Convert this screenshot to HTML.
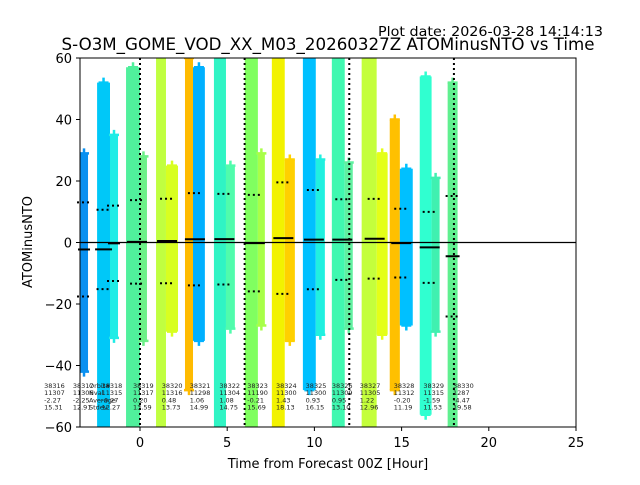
<!DOCTYPE html>
<html><head><meta charset="utf-8"><style>
body{margin:0;background:#fff;}
svg{font-family:"DejaVu Sans","Liberation Sans",sans-serif;}
</style></head><body>
<svg id="chart" width="640" height="480" viewBox="0 0 640 480" xmlns="http://www.w3.org/2000/svg">
<rect width="640" height="480" fill="#fff"/>
<text x="603" y="36" font-size="13.5" text-anchor="end" textLength="225" lengthAdjust="spacingAndGlyphs">Plot date: 2026-03-28 14:14:13</text>
<text x="328" y="50" font-size="16.5" text-anchor="middle" textLength="533" lengthAdjust="spacingAndGlyphs">S-O3M_GOME_VOD_XX_M03_20260327Z ATOMinusNTO vs Time</text>
<defs><clipPath id="plotclip"><rect x="80" y="58" width="496" height="369"/></clipPath></defs>
<g id="marks" clip-path="url(#plotclip)"></g>
<g id="overlay"></g>
<rect x="80" y="58" width="496" height="369" fill="none" stroke="#000" stroke-width="1"/>
<g id="axes"></g>
<text x="328" y="468" font-size="13" text-anchor="middle">Time from Forecast 00Z [Hour]</text>
<text x="32" y="242" font-size="13" text-anchor="middle" transform="rotate(-90 32 242)">ATOMinusNTO</text>
</svg>
<script>
const orbits = ["38316","38317","38318","38319","38320","38321","38322","38323","38324","38325","38326","38327","38328","38329","38330"];
const nvals = ["11307","11306","11315","11317","11316","11298","11304","11190","11300","11300","11309","11305","11312","11315","1287"];
const means = [-2.27,-2.25,-0.27,0.20,0.48,1.06,1.08,-0.21,1.43,0.93,0.95,1.22,-0.20,-1.59,-4.47];
const stds = [15.31,12.91,12.27,13.59,13.73,14.99,14.75,15.69,18.13,16.15,13.10,12.96,11.19,11.53,19.58];
const orbitStart = [-3.44,-2.46,-1.72,-0.74,0.92,2.58,4.24,6.01,7.56,9.34,11.0,12.71,14.32,16.04,17.64];
const orbitEnd = [-2.98,-1.72,-1.26,0.40,2.18,3.72,5.44,7.16,8.88,10.6,12.2,14.2,15.64,17.18,18.21];
const labelHour = [-5.5,-3.85,-2.2,-0.4,1.25,2.85,4.55,6.15,7.8,9.5,11.0,12.6,14.55,16.25,17.95];
const stripOrbit = [0,1,2,3,3,4,4,5,5,6,6,7,7,8,8,9,9,10,10,11,11,12,12,13,13,14];
const stripStart = [-3.44,-2.46,-1.72,-0.80,0.0,0.92,1.49,2.58,3.04,4.24,4.93,6.01,6.76,7.56,8.3,9.34,10.08,11.0,11.74,12.71,13.57,14.32,14.9,16.04,16.72,17.64];
const stripEnd = [-2.98,-1.72,-1.26,0.0,0.40,1.49,2.18,3.04,3.72,4.93,5.44,6.76,7.16,8.3,8.88,10.08,10.6,11.74,12.2,13.57,14.2,14.9,15.64,16.72,17.18,18.21];
const stripTop = [29,52,35,57,28,60,25,60,57,60,25,60,29,60,27,60,27,60,26,60,29,40,24,54,21,52];
const stripBottom = [-42,-60,-31,-60,-32,-60,-29,-48,-32,-60,-28,-60,-27,-60,-32,-48,-30,-60,-28,-60,-30,-48,-27,-56,-29,-60];
const stripColor = ["#0a90f0","#00c8f8","#20ece6","#50f09c","#6cf088","#c0ff40","#d8ff20","#ffbb00","#00b0ff","#30f4c4","#50fcac","#80ff60","#a8ff48","#f2f200","#ffd000","#00c0ff","#20f0e0","#40f8b0","#60f0a0","#c4ff3c","#e4ff18","#ffc000","#00c0ff","#30ffd0","#40f0b0","#60f090"];
const xTicks = [0,5,10,15,20,25];
const yTicks = [-60,-40,-20,0,20,40,60];
const dayLines = [0,6,12,18];

const X0=-3.44, X1=25, Y0=-60, Y1=60;
const xs = h => 80 + (h - X0) / (X1 - X0) * 496;
const ys = v => 427 - (v - Y0) / (Y1 - Y0) * 369;
const NS="http://www.w3.org/2000/svg";
function mk(tag, attrs, parent){const e=document.createElementNS(NS,tag);for(const k in attrs)e.setAttribute(k,attrs[k]);parent.appendChild(e);return e;}
const marks=document.getElementById('marks'), overlay=document.getElementById('overlay'), axes=document.getElementById('axes');

stripStart.forEach((s,i)=>{
  const r=mk('rect',{x:xs(s),y:ys(stripTop[i]),width:xs(stripEnd[i])-xs(s),height:ys(stripBottom[i])-ys(stripTop[i]),fill:stripColor[i]},marks);
  
  
  [stripTop[i],stripBottom[i]].forEach(v=>{
    const cx=(xs(s)+xs(stripEnd[i]))/2, cy=ys(v);
    const p=mk('path',{d:`M${cx-5} ${cy}H${cx+5}M${cx} ${cy-5}V${cy+5}`,stroke:stripColor[i],'stroke-width':2.5},marks);
    
    
  });
});
const zl=mk('line',{x1:80,x2:576,y1:ys(0),y2:ys(0),stroke:'#000','stroke-width':1.2},overlay);


dayLines.forEach(d=>{
  const l=mk('line',{x1:xs(d),x2:xs(d),y1:58,y2:427,stroke:'#000','stroke-width':2,'stroke-dasharray':'2 3'},overlay);
  
  
});
orbits.forEach((o,i)=>{
  const a=xs(orbitStart[i]), b=xs(orbitEnd[i]), w=b-a, c=(a+b)/2;
  const m=mk('line',{x1:c-Math.min(w,16)/2-2,x2:c+Math.min(w,16)/2+2,y1:ys(means[i]),y2:ys(means[i]),stroke:'#000','stroke-width':2},overlay);
  
  
  [1,-1].forEach(sg=>{
    const d=mk('line',{x1:c-7,x2:c+7,y1:ys(means[i]+sg*stds[i]),y2:ys(means[i]+sg*stds[i]),stroke:'#000','stroke-width':2,'stroke-dasharray':'2 3'},overlay);
    
    
  });
  const t=mk('text',{x:xs(labelHour[i]),y:388,'font-size':6.5,fill:'#222'},overlay);
  
  
  [o,nvals[i],means[i].toFixed(2),stds[i].toFixed(2)].forEach((s,k)=>{
    const ts=mk('tspan',{x:xs(labelHour[i]),dy:k?7.2:0},t);ts.textContent=s;
  });
});
const leg=mk('text',{x:89,y:388,'font-size':6.5,fill:'#222'},overlay);


["Orbit#","Nval","Average","Stdev"].forEach((s,k)=>{const ts=mk('tspan',{x:89,dy:k?7.2:0},leg);ts.textContent=s;});

xTicks.forEach(v=>{
  const l=mk('line',{x1:xs(v),x2:xs(v),y1:427,y2:431,stroke:'#000'},axes);
  
  
  const t=mk('text',{x:xs(v),y:447,'font-size':13,'text-anchor':'middle'},axes);
  t.textContent=v;
  
  
});
yTicks.forEach(v=>{
  const l=mk('line',{x1:76,x2:80,y1:ys(v),y2:ys(v),stroke:'#000'},axes);
  
  
  const t=mk('text',{x:72,y:ys(v)+5,'font-size':13,'text-anchor':'end'},axes);
  t.textContent=v<0?'\u2212'+(-v):v;
  
  
});
</script>
</body></html>
